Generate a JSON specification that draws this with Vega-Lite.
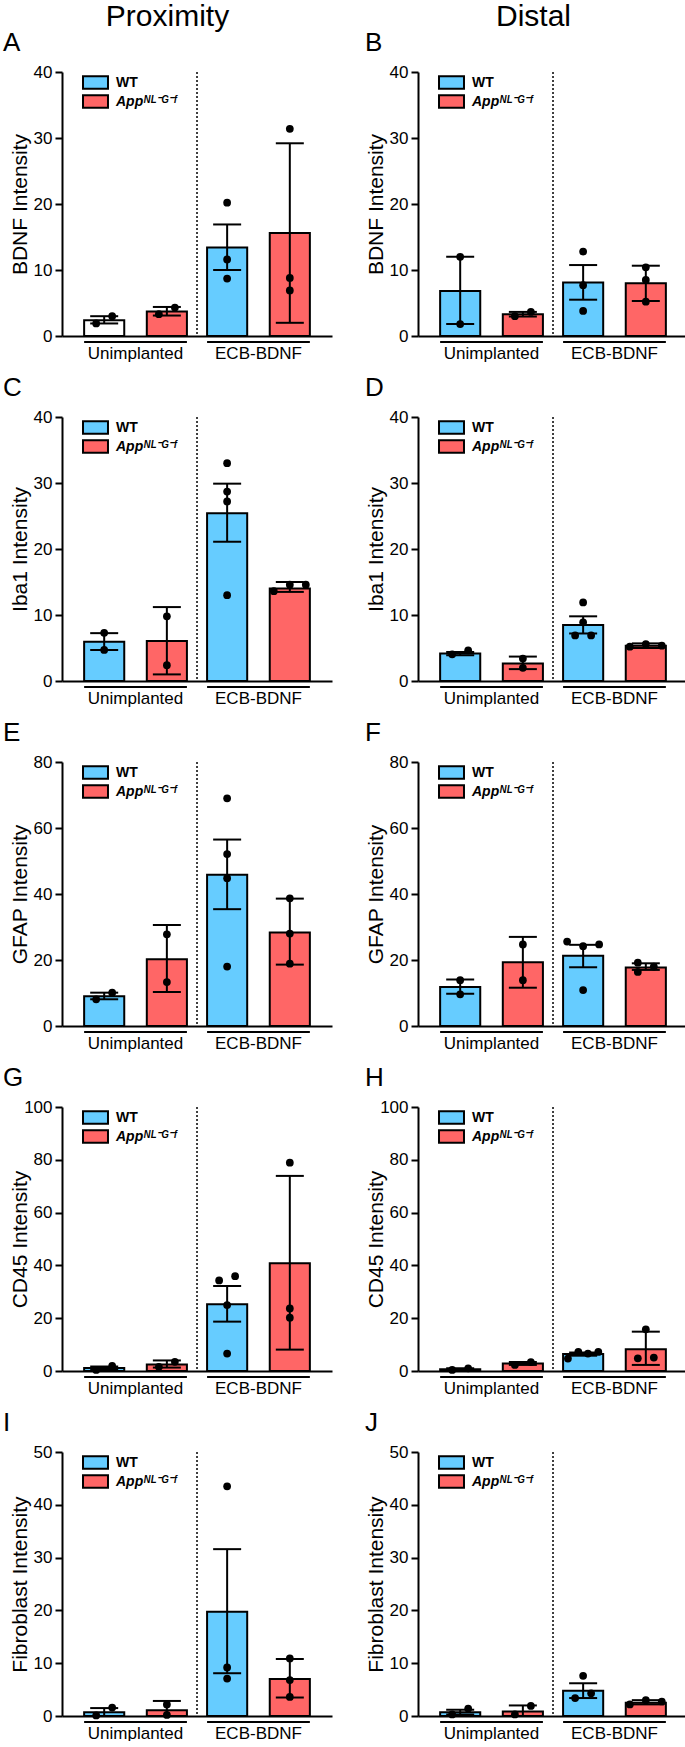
{
"$schema": "https://vega.github.io/schema/vega-lite/v6.json",
"padding": {"left": 2, "top": 2, "right": 0, "bottom": 0},
"datasets": {
"groups": [{"group": "Unimplanted"}, {"group": "ECB-BDNF"}],
"bars": [
{"panel":"A","group":"Unimplanted","genotype":"WT","mean":2.4,"lo":1.9,"hi":3.0},
{"panel":"A","group":"Unimplanted","genotype":"App","mean":3.7,"lo":3.1,"hi":4.4},
{"panel":"A","group":"ECB-BDNF","genotype":"WT","mean":13.4,"lo":10.0,"hi":16.9},
{"panel":"A","group":"ECB-BDNF","genotype":"App","mean":15.6,"lo":2.0,"hi":29.2},
{"panel":"B","group":"Unimplanted","genotype":"WT","mean":6.8,"lo":1.8,"hi":12.0},
{"panel":"B","group":"Unimplanted","genotype":"App","mean":3.3,"lo":2.95,"hi":3.65},
{"panel":"B","group":"ECB-BDNF","genotype":"WT","mean":8.1,"lo":5.5,"hi":10.75},
{"panel":"B","group":"ECB-BDNF","genotype":"App","mean":8.0,"lo":5.3,"hi":10.65},
{"panel":"C","group":"Unimplanted","genotype":"WT","mean":5.95,"lo":4.7,"hi":7.25},
{"panel":"C","group":"Unimplanted","genotype":"App","mean":6.05,"lo":1.0,"hi":11.2},
{"panel":"C","group":"ECB-BDNF","genotype":"WT","mean":25.4,"lo":21.1,"hi":29.9},
{"panel":"C","group":"ECB-BDNF","genotype":"App","mean":14.0,"lo":13.5,"hi":15.0},
{"panel":"D","group":"Unimplanted","genotype":"WT","mean":4.15,"lo":3.9,"hi":4.4},
{"panel":"D","group":"Unimplanted","genotype":"App","mean":2.65,"lo":1.8,"hi":3.7},
{"panel":"D","group":"ECB-BDNF","genotype":"WT","mean":8.5,"lo":7.2,"hi":9.8},
{"panel":"D","group":"ECB-BDNF","genotype":"App","mean":5.35,"lo":5.0,"hi":5.7},
{"panel":"E","group":"Unimplanted","genotype":"WT","mean":9.0,"lo":8.1,"hi":10.1},
{"panel":"E","group":"Unimplanted","genotype":"App","mean":20.2,"lo":10.3,"hi":30.6},
{"panel":"E","group":"ECB-BDNF","genotype":"WT","mean":45.8,"lo":35.4,"hi":56.5},
{"panel":"E","group":"ECB-BDNF","genotype":"App","mean":28.3,"lo":18.6,"hi":38.6},
{"panel":"F","group":"Unimplanted","genotype":"WT","mean":11.8,"lo":9.8,"hi":14.1},
{"panel":"F","group":"Unimplanted","genotype":"App","mean":19.3,"lo":11.6,"hi":27.0},
{"panel":"F","group":"ECB-BDNF","genotype":"WT","mean":21.3,"lo":17.8,"hi":24.6},
{"panel":"F","group":"ECB-BDNF","genotype":"App","mean":17.7,"lo":17.0,"hi":19.0},
{"panel":"G","group":"Unimplanted","genotype":"WT","mean":1.1,"lo":0.5,"hi":1.7},
{"panel":"G","group":"Unimplanted","genotype":"App","mean":2.5,"lo":1.3,"hi":4.0},
{"panel":"G","group":"ECB-BDNF","genotype":"WT","mean":25.3,"lo":18.7,"hi":32.2},
{"panel":"G","group":"ECB-BDNF","genotype":"App","mean":40.8,"lo":8.1,"hi":73.9},
{"panel":"H","group":"Unimplanted","genotype":"WT","mean":0.7,"lo":0.4,"hi":1.0},
{"panel":"H","group":"Unimplanted","genotype":"App","mean":2.8,"lo":2.3,"hi":3.4},
{"panel":"H","group":"ECB-BDNF","genotype":"WT","mean":6.4,"lo":5.8,"hi":7.0},
{"panel":"H","group":"ECB-BDNF","genotype":"App","mean":8.2,"lo":2.3,"hi":14.9},
{"panel":"I","group":"Unimplanted","genotype":"WT","mean":0.7,"lo":0.0,"hi":1.5},
{"panel":"I","group":"Unimplanted","genotype":"App","mean":1.1,"lo":0.0,"hi":2.85},
{"panel":"I","group":"ECB-BDNF","genotype":"WT","mean":19.75,"lo":8.1,"hi":31.6},
{"panel":"I","group":"ECB-BDNF","genotype":"App","mean":7.0,"lo":3.5,"hi":10.8},
{"panel":"J","group":"Unimplanted","genotype":"WT","mean":0.7,"lo":0.3,"hi":1.2},
{"panel":"J","group":"Unimplanted","genotype":"App","mean":0.85,"lo":0.0,"hi":2.0},
{"panel":"J","group":"ECB-BDNF","genotype":"WT","mean":4.8,"lo":3.4,"hi":6.2},
{"panel":"J","group":"ECB-BDNF","genotype":"App","mean":2.5,"lo":2.2,"hi":3.0}
],
"points": [
{"panel":"A","group":"Unimplanted","genotype":"WT","value":1.9,"spread":-1},
{"panel":"A","group":"Unimplanted","genotype":"WT","value":3.0,"spread":1},
{"panel":"A","group":"Unimplanted","genotype":"App","value":3.3,"spread":-1},
{"panel":"A","group":"Unimplanted","genotype":"App","value":4.3,"spread":1},
{"panel":"A","group":"ECB-BDNF","genotype":"WT","value":20.2,"spread":0},
{"panel":"A","group":"ECB-BDNF","genotype":"WT","value":11.6,"spread":0},
{"panel":"A","group":"ECB-BDNF","genotype":"WT","value":8.7,"spread":0},
{"panel":"A","group":"ECB-BDNF","genotype":"App","value":31.4,"spread":0},
{"panel":"A","group":"ECB-BDNF","genotype":"App","value":8.8,"spread":0},
{"panel":"A","group":"ECB-BDNF","genotype":"App","value":6.9,"spread":0},
{"panel":"B","group":"Unimplanted","genotype":"WT","value":12.0,"spread":0},
{"panel":"B","group":"Unimplanted","genotype":"WT","value":1.8,"spread":0},
{"panel":"B","group":"Unimplanted","genotype":"App","value":3.0,"spread":-1},
{"panel":"B","group":"Unimplanted","genotype":"App","value":3.65,"spread":1},
{"panel":"B","group":"ECB-BDNF","genotype":"WT","value":12.8,"spread":0},
{"panel":"B","group":"ECB-BDNF","genotype":"WT","value":7.7,"spread":0},
{"panel":"B","group":"ECB-BDNF","genotype":"WT","value":3.8,"spread":0},
{"panel":"B","group":"ECB-BDNF","genotype":"App","value":10.4,"spread":0},
{"panel":"B","group":"ECB-BDNF","genotype":"App","value":8.5,"spread":0},
{"panel":"B","group":"ECB-BDNF","genotype":"App","value":5.2,"spread":0},
{"panel":"C","group":"Unimplanted","genotype":"WT","value":7.3,"spread":0},
{"panel":"C","group":"Unimplanted","genotype":"WT","value":4.7,"spread":0},
{"panel":"C","group":"Unimplanted","genotype":"App","value":9.8,"spread":0},
{"panel":"C","group":"Unimplanted","genotype":"App","value":2.4,"spread":0},
{"panel":"C","group":"ECB-BDNF","genotype":"WT","value":33.0,"spread":0},
{"panel":"C","group":"ECB-BDNF","genotype":"WT","value":28.7,"spread":0},
{"panel":"C","group":"ECB-BDNF","genotype":"WT","value":27.2,"spread":0},
{"panel":"C","group":"ECB-BDNF","genotype":"WT","value":13.0,"spread":0},
{"panel":"C","group":"ECB-BDNF","genotype":"App","value":13.6,"spread":-2},
{"panel":"C","group":"ECB-BDNF","genotype":"App","value":14.6,"spread":0},
{"panel":"C","group":"ECB-BDNF","genotype":"App","value":14.6,"spread":2},
{"panel":"D","group":"Unimplanted","genotype":"WT","value":4.05,"spread":-1},
{"panel":"D","group":"Unimplanted","genotype":"WT","value":4.65,"spread":1},
{"panel":"D","group":"Unimplanted","genotype":"App","value":3.4,"spread":0},
{"panel":"D","group":"Unimplanted","genotype":"App","value":2.0,"spread":0},
{"panel":"D","group":"ECB-BDNF","genotype":"WT","value":11.9,"spread":0},
{"panel":"D","group":"ECB-BDNF","genotype":"WT","value":8.9,"spread":0},
{"panel":"D","group":"ECB-BDNF","genotype":"WT","value":6.9,"spread":-1},
{"panel":"D","group":"ECB-BDNF","genotype":"WT","value":6.9,"spread":1},
{"panel":"D","group":"ECB-BDNF","genotype":"App","value":5.2,"spread":-2},
{"panel":"D","group":"ECB-BDNF","genotype":"App","value":5.6,"spread":0},
{"panel":"D","group":"ECB-BDNF","genotype":"App","value":5.35,"spread":2},
{"panel":"E","group":"Unimplanted","genotype":"WT","value":8.1,"spread":-1},
{"panel":"E","group":"Unimplanted","genotype":"WT","value":10.1,"spread":1},
{"panel":"E","group":"Unimplanted","genotype":"App","value":27.8,"spread":0},
{"panel":"E","group":"Unimplanted","genotype":"App","value":13.3,"spread":0},
{"panel":"E","group":"ECB-BDNF","genotype":"WT","value":69.0,"spread":0},
{"panel":"E","group":"ECB-BDNF","genotype":"WT","value":52.1,"spread":0},
{"panel":"E","group":"ECB-BDNF","genotype":"WT","value":44.8,"spread":0},
{"panel":"E","group":"ECB-BDNF","genotype":"WT","value":18.0,"spread":0},
{"panel":"E","group":"ECB-BDNF","genotype":"App","value":38.7,"spread":0},
{"panel":"E","group":"ECB-BDNF","genotype":"App","value":28.0,"spread":0},
{"panel":"E","group":"ECB-BDNF","genotype":"App","value":18.9,"spread":0},
{"panel":"F","group":"Unimplanted","genotype":"WT","value":13.9,"spread":0},
{"panel":"F","group":"Unimplanted","genotype":"WT","value":9.6,"spread":0},
{"panel":"F","group":"Unimplanted","genotype":"App","value":24.7,"spread":0},
{"panel":"F","group":"Unimplanted","genotype":"App","value":13.9,"spread":0},
{"panel":"F","group":"ECB-BDNF","genotype":"WT","value":25.6,"spread":-2},
{"panel":"F","group":"ECB-BDNF","genotype":"WT","value":24.2,"spread":0},
{"panel":"F","group":"ECB-BDNF","genotype":"WT","value":24.7,"spread":2},
{"panel":"F","group":"ECB-BDNF","genotype":"WT","value":10.9,"spread":0},
{"panel":"F","group":"ECB-BDNF","genotype":"App","value":19.2,"spread":-1},
{"panel":"F","group":"ECB-BDNF","genotype":"App","value":16.4,"spread":-1},
{"panel":"F","group":"ECB-BDNF","genotype":"App","value":18.0,"spread":1},
{"panel":"G","group":"Unimplanted","genotype":"WT","value":0.4,"spread":-1},
{"panel":"G","group":"Unimplanted","genotype":"WT","value":1.9,"spread":1},
{"panel":"G","group":"Unimplanted","genotype":"App","value":1.6,"spread":-1},
{"panel":"G","group":"Unimplanted","genotype":"App","value":3.5,"spread":1},
{"panel":"G","group":"ECB-BDNF","genotype":"WT","value":34.3,"spread":-1},
{"panel":"G","group":"ECB-BDNF","genotype":"WT","value":35.9,"spread":1},
{"panel":"G","group":"ECB-BDNF","genotype":"WT","value":25.0,"spread":0},
{"panel":"G","group":"ECB-BDNF","genotype":"WT","value":6.6,"spread":0},
{"panel":"G","group":"ECB-BDNF","genotype":"App","value":78.9,"spread":0},
{"panel":"G","group":"ECB-BDNF","genotype":"App","value":23.7,"spread":0},
{"panel":"G","group":"ECB-BDNF","genotype":"App","value":20.2,"spread":0},
{"panel":"H","group":"Unimplanted","genotype":"WT","value":0.4,"spread":-1},
{"panel":"H","group":"Unimplanted","genotype":"WT","value":1.0,"spread":1},
{"panel":"H","group":"Unimplanted","genotype":"App","value":2.3,"spread":-1},
{"panel":"H","group":"Unimplanted","genotype":"App","value":3.4,"spread":1},
{"panel":"H","group":"ECB-BDNF","genotype":"WT","value":4.7,"spread":-1.9},
{"panel":"H","group":"ECB-BDNF","genotype":"WT","value":7.2,"spread":-0.6},
{"panel":"H","group":"ECB-BDNF","genotype":"WT","value":6.6,"spread":0.6},
{"panel":"H","group":"ECB-BDNF","genotype":"WT","value":7.2,"spread":1.9},
{"panel":"H","group":"ECB-BDNF","genotype":"App","value":15.8,"spread":0},
{"panel":"H","group":"ECB-BDNF","genotype":"App","value":4.8,"spread":-1},
{"panel":"H","group":"ECB-BDNF","genotype":"App","value":5.1,"spread":1},
{"panel":"I","group":"Unimplanted","genotype":"WT","value":0.1,"spread":-1},
{"panel":"I","group":"Unimplanted","genotype":"WT","value":1.6,"spread":1},
{"panel":"I","group":"Unimplanted","genotype":"App","value":2.2,"spread":0},
{"panel":"I","group":"Unimplanted","genotype":"App","value":0.2,"spread":0},
{"panel":"I","group":"ECB-BDNF","genotype":"WT","value":43.5,"spread":0},
{"panel":"I","group":"ECB-BDNF","genotype":"WT","value":9.2,"spread":0},
{"panel":"I","group":"ECB-BDNF","genotype":"WT","value":7.1,"spread":0},
{"panel":"I","group":"ECB-BDNF","genotype":"App","value":10.9,"spread":0},
{"panel":"I","group":"ECB-BDNF","genotype":"App","value":6.8,"spread":0},
{"panel":"I","group":"ECB-BDNF","genotype":"App","value":3.6,"spread":0},
{"panel":"J","group":"Unimplanted","genotype":"WT","value":0.3,"spread":-1},
{"panel":"J","group":"Unimplanted","genotype":"WT","value":1.4,"spread":1},
{"panel":"J","group":"Unimplanted","genotype":"App","value":0.3,"spread":-1},
{"panel":"J","group":"Unimplanted","genotype":"App","value":1.9,"spread":1},
{"panel":"J","group":"ECB-BDNF","genotype":"WT","value":7.6,"spread":0},
{"panel":"J","group":"ECB-BDNF","genotype":"WT","value":3.4,"spread":-1},
{"panel":"J","group":"ECB-BDNF","genotype":"WT","value":4.3,"spread":1},
{"panel":"J","group":"ECB-BDNF","genotype":"App","value":2.2,"spread":-2},
{"panel":"J","group":"ECB-BDNF","genotype":"App","value":3.0,"spread":0},
{"panel":"J","group":"ECB-BDNF","genotype":"App","value":2.7,"spread":2}
]
},
"config": {
"font": "Liberation Sans",
"view": {"stroke": null},
"axis": {"domainColor": "black", "domainWidth": 2, "tickColor": "black", "tickWidth": 2, "tickSize": 7, "labelFont": "Liberation Sans", "labelFontSize": 17, "labelColor": "black", "titleFont": "Liberation Sans", "titleFontSize": 21, "titleFontWeight": "normal", "titleColor": "black", "grid": false},
"axisY": {"labelPadding": 3, "titleX": -32, "titleY": 132, "titleAngle": 270, "titleAlign": "center", "titleBaseline": "bottom"},
"axisX": {"ticks": false, "labelPadding": 9, "labelAngle": 0},
"legend": {"symbolType": "M-2,-1H2V1H-2Z", "symbolSize": 156, "symbolStrokeColor": "black", "symbolStrokeWidth": 2, "symbolOpacity": 1, "labelFont": "Liberation Sans", "labelFontSize": 14, "labelFontWeight": "bold", "labelColor": "black", "labelOffset": 13, "rowPadding": -2, "padding": 0},
"title": {"font": "Liberation Sans", "fontSize": 26, "fontWeight": "normal", "color": "black", "anchor": "start", "offset": 7}
},
"hconcat": [
{
"title": {"text": "Proximity", "anchor": "middle", "fontSize": 30, "offset": -2},
"bounds": "flush",
"spacing": 81,
"resolve": {"scale": {"fill": "independent", "x": "independent", "y": "independent", "xOffset": "independent"}, "legend": {"fill": "independent"}},
"vconcat": [
{"title": {"text": "A", "dx": -6}, "width": 270, "height": 264, "layer": [
{"data": {"name": "groups"}, "transform": [{"filter": "datum.group == 'ECB-BDNF'"}], "mark": {"type": "rule", "strokeDash": [2, 2], "strokeWidth": 1.5, "color": "black"}, "encoding": {"x": {"field": "group", "type": "nominal", "bandPosition": -0.098}}},
{"data": {"name": "bars"}, "transform": [{"filter": "datum.panel == 'A'"}], "mark": {"type": "bar", "stroke": "black", "strokeWidth": 2}, "encoding": {
"x": {"field": "group", "type": "nominal", "title": null, "scale": {"domain": ["Unimplanted", "ECB-BDNF"], "paddingInner": 0.164, "paddingOuter": 0.18}},
"xOffset": {"field": "genotype", "type": "nominal", "scale": {"domain": ["WT", "App"], "paddingInner": 0.36, "paddingOuter": 0}},
"y": {"field": "mean", "type": "quantitative", "scale": {"domain": [0, 40], "nice": false}, "axis": {"values": [0, 10, 20, 30, 40], "title": "BDNF Intensity"}},
"fill": {"condition": {"test": "datum.group == 'Unimplanted' && datum.genotype == 'WT'", "value": "white"}, "field": "genotype", "type": "nominal", "scale": {"domain": ["WT", "App"], "range": ["#66CCFF", "#FF6666"]}, "legend": {"title": null, "orient": "none", "legendX": 26, "legendY": 3, "direction": "vertical", "labelExpr": "datum.value == 'WT' ? 'WT' : 'App\u1d3a\u1d38\u207b\u1d33\u207b\u1da0'", "encode": {"labels": {"update": {"fontStyle": {"signal": "datum.value == 'App' ? 'italic' : 'normal'"}}}}}}}},
{"data": {"name": "bars"}, "transform": [{"filter": "datum.panel == 'A'"}], "mark": {"type": "rule", "strokeWidth": 2, "color": "black"}, "encoding": {"x": {"field": "group", "type": "nominal"}, "xOffset": {"field": "genotype", "type": "nominal"}, "y": {"field": "lo", "type": "quantitative"}, "y2": {"field": "hi"}}},
{"data": {"name": "bars"}, "transform": [{"filter": "datum.panel == 'A'"}], "mark": {"type": "tick", "thickness": 2, "size": 28, "color": "black", "opacity": 1}, "encoding": {"x": {"field": "group", "type": "nominal"}, "xOffset": {"field": "genotype", "type": "nominal"}, "y": {"field": "lo", "type": "quantitative"}}},
{"data": {"name": "bars"}, "transform": [{"filter": "datum.panel == 'A'"}], "mark": {"type": "tick", "thickness": 2, "size": 28, "color": "black", "opacity": 1}, "encoding": {"x": {"field": "group", "type": "nominal"}, "xOffset": {"field": "genotype", "type": "nominal"}, "y": {"field": "hi", "type": "quantitative"}}},
{"data": {"name": "points"}, "transform": [{"filter": "datum.panel == 'A' && datum.genotype == 'WT'"}], "mark": {"type": "circle", "size": 60, "color": "black", "opacity": 1, "xOffset": {"expr": "datum.spread * 8"}}, "encoding": {"x": {"field": "group", "type": "nominal", "bandPosition": 0.195}, "y": {"field": "value", "type": "quantitative"}}},
{"data": {"name": "points"}, "transform": [{"filter": "datum.panel == 'A' && datum.genotype == 'App'"}], "mark": {"type": "circle", "size": 60, "color": "black", "opacity": 1, "xOffset": {"expr": "datum.spread * 8"}}, "encoding": {"x": {"field": "group", "type": "nominal", "bandPosition": 0.805}, "y": {"field": "value", "type": "quantitative"}}},
{"data": {"name": "groups"}, "mark": {"type": "rule", "strokeWidth": 2, "color": "black", "yOffset": 6}, "encoding": {"x": {"field": "group", "type": "nominal", "bandPosition": 0}, "x2": {"field": "group", "bandPosition": 1}, "y": {"datum": 0}}}
]},
{"title": {"text": "C", "dx": -6}, "width": 270, "height": 264, "layer": [
{"data": {"name": "groups"}, "transform": [{"filter": "datum.group == 'ECB-BDNF'"}], "mark": {"type": "rule", "strokeDash": [2, 2], "strokeWidth": 1.5, "color": "black"}, "encoding": {"x": {"field": "group", "type": "nominal", "bandPosition": -0.098}}},
{"data": {"name": "bars"}, "transform": [{"filter": "datum.panel == 'C'"}], "mark": {"type": "bar", "stroke": "black", "strokeWidth": 2}, "encoding": {
"x": {"field": "group", "type": "nominal", "title": null, "scale": {"domain": ["Unimplanted", "ECB-BDNF"], "paddingInner": 0.164, "paddingOuter": 0.18}},
"xOffset": {"field": "genotype", "type": "nominal", "scale": {"domain": ["WT", "App"], "paddingInner": 0.36, "paddingOuter": 0}},
"y": {"field": "mean", "type": "quantitative", "scale": {"domain": [0, 40], "nice": false}, "axis": {"values": [0, 10, 20, 30, 40], "title": "Iba1 Intensity"}},
"fill": {"field": "genotype", "type": "nominal", "scale": {"domain": ["WT", "App"], "range": ["#66CCFF", "#FF6666"]}, "legend": {"title": null, "orient": "none", "legendX": 26, "legendY": 3, "direction": "vertical", "labelExpr": "datum.value == 'WT' ? 'WT' : 'App\u1d3a\u1d38\u207b\u1d33\u207b\u1da0'", "encode": {"labels": {"update": {"fontStyle": {"signal": "datum.value == 'App' ? 'italic' : 'normal'"}}}}}}}},
{"data": {"name": "bars"}, "transform": [{"filter": "datum.panel == 'C'"}], "mark": {"type": "rule", "strokeWidth": 2, "color": "black"}, "encoding": {"x": {"field": "group", "type": "nominal"}, "xOffset": {"field": "genotype", "type": "nominal"}, "y": {"field": "lo", "type": "quantitative"}, "y2": {"field": "hi"}}},
{"data": {"name": "bars"}, "transform": [{"filter": "datum.panel == 'C'"}], "mark": {"type": "tick", "thickness": 2, "size": 28, "color": "black", "opacity": 1}, "encoding": {"x": {"field": "group", "type": "nominal"}, "xOffset": {"field": "genotype", "type": "nominal"}, "y": {"field": "lo", "type": "quantitative"}}},
{"data": {"name": "bars"}, "transform": [{"filter": "datum.panel == 'C'"}], "mark": {"type": "tick", "thickness": 2, "size": 28, "color": "black", "opacity": 1}, "encoding": {"x": {"field": "group", "type": "nominal"}, "xOffset": {"field": "genotype", "type": "nominal"}, "y": {"field": "hi", "type": "quantitative"}}},
{"data": {"name": "points"}, "transform": [{"filter": "datum.panel == 'C' && datum.genotype == 'WT'"}], "mark": {"type": "circle", "size": 60, "color": "black", "opacity": 1, "xOffset": {"expr": "datum.spread * 8"}}, "encoding": {"x": {"field": "group", "type": "nominal", "bandPosition": 0.195}, "y": {"field": "value", "type": "quantitative"}}},
{"data": {"name": "points"}, "transform": [{"filter": "datum.panel == 'C' && datum.genotype == 'App'"}], "mark": {"type": "circle", "size": 60, "color": "black", "opacity": 1, "xOffset": {"expr": "datum.spread * 8"}}, "encoding": {"x": {"field": "group", "type": "nominal", "bandPosition": 0.805}, "y": {"field": "value", "type": "quantitative"}}},
{"data": {"name": "groups"}, "mark": {"type": "rule", "strokeWidth": 2, "color": "black", "yOffset": 6}, "encoding": {"x": {"field": "group", "type": "nominal", "bandPosition": 0}, "x2": {"field": "group", "bandPosition": 1}, "y": {"datum": 0}}}
]},
{"title": {"text": "E", "dx": -6}, "width": 270, "height": 264, "layer": [
{"data": {"name": "groups"}, "transform": [{"filter": "datum.group == 'ECB-BDNF'"}], "mark": {"type": "rule", "strokeDash": [2, 2], "strokeWidth": 1.5, "color": "black"}, "encoding": {"x": {"field": "group", "type": "nominal", "bandPosition": -0.098}}},
{"data": {"name": "bars"}, "transform": [{"filter": "datum.panel == 'E'"}], "mark": {"type": "bar", "stroke": "black", "strokeWidth": 2}, "encoding": {
"x": {"field": "group", "type": "nominal", "title": null, "scale": {"domain": ["Unimplanted", "ECB-BDNF"], "paddingInner": 0.164, "paddingOuter": 0.18}},
"xOffset": {"field": "genotype", "type": "nominal", "scale": {"domain": ["WT", "App"], "paddingInner": 0.36, "paddingOuter": 0}},
"y": {"field": "mean", "type": "quantitative", "scale": {"domain": [0, 80], "nice": false}, "axis": {"values": [0, 20, 40, 60, 80], "title": "GFAP Intensity"}},
"fill": {"field": "genotype", "type": "nominal", "scale": {"domain": ["WT", "App"], "range": ["#66CCFF", "#FF6666"]}, "legend": {"title": null, "orient": "none", "legendX": 26, "legendY": 3, "direction": "vertical", "labelExpr": "datum.value == 'WT' ? 'WT' : 'App\u1d3a\u1d38\u207b\u1d33\u207b\u1da0'", "encode": {"labels": {"update": {"fontStyle": {"signal": "datum.value == 'App' ? 'italic' : 'normal'"}}}}}}}},
{"data": {"name": "bars"}, "transform": [{"filter": "datum.panel == 'E'"}], "mark": {"type": "rule", "strokeWidth": 2, "color": "black"}, "encoding": {"x": {"field": "group", "type": "nominal"}, "xOffset": {"field": "genotype", "type": "nominal"}, "y": {"field": "lo", "type": "quantitative"}, "y2": {"field": "hi"}}},
{"data": {"name": "bars"}, "transform": [{"filter": "datum.panel == 'E'"}], "mark": {"type": "tick", "thickness": 2, "size": 28, "color": "black", "opacity": 1}, "encoding": {"x": {"field": "group", "type": "nominal"}, "xOffset": {"field": "genotype", "type": "nominal"}, "y": {"field": "lo", "type": "quantitative"}}},
{"data": {"name": "bars"}, "transform": [{"filter": "datum.panel == 'E'"}], "mark": {"type": "tick", "thickness": 2, "size": 28, "color": "black", "opacity": 1}, "encoding": {"x": {"field": "group", "type": "nominal"}, "xOffset": {"field": "genotype", "type": "nominal"}, "y": {"field": "hi", "type": "quantitative"}}},
{"data": {"name": "points"}, "transform": [{"filter": "datum.panel == 'E' && datum.genotype == 'WT'"}], "mark": {"type": "circle", "size": 60, "color": "black", "opacity": 1, "xOffset": {"expr": "datum.spread * 8"}}, "encoding": {"x": {"field": "group", "type": "nominal", "bandPosition": 0.195}, "y": {"field": "value", "type": "quantitative"}}},
{"data": {"name": "points"}, "transform": [{"filter": "datum.panel == 'E' && datum.genotype == 'App'"}], "mark": {"type": "circle", "size": 60, "color": "black", "opacity": 1, "xOffset": {"expr": "datum.spread * 8"}}, "encoding": {"x": {"field": "group", "type": "nominal", "bandPosition": 0.805}, "y": {"field": "value", "type": "quantitative"}}},
{"data": {"name": "groups"}, "mark": {"type": "rule", "strokeWidth": 2, "color": "black", "yOffset": 6}, "encoding": {"x": {"field": "group", "type": "nominal", "bandPosition": 0}, "x2": {"field": "group", "bandPosition": 1}, "y": {"datum": 0}}}
]},
{"title": {"text": "G", "dx": -6}, "width": 270, "height": 264, "layer": [
{"data": {"name": "groups"}, "transform": [{"filter": "datum.group == 'ECB-BDNF'"}], "mark": {"type": "rule", "strokeDash": [2, 2], "strokeWidth": 1.5, "color": "black"}, "encoding": {"x": {"field": "group", "type": "nominal", "bandPosition": -0.098}}},
{"data": {"name": "bars"}, "transform": [{"filter": "datum.panel == 'G'"}], "mark": {"type": "bar", "stroke": "black", "strokeWidth": 2}, "encoding": {
"x": {"field": "group", "type": "nominal", "title": null, "scale": {"domain": ["Unimplanted", "ECB-BDNF"], "paddingInner": 0.164, "paddingOuter": 0.18}},
"xOffset": {"field": "genotype", "type": "nominal", "scale": {"domain": ["WT", "App"], "paddingInner": 0.36, "paddingOuter": 0}},
"y": {"field": "mean", "type": "quantitative", "scale": {"domain": [0, 100], "nice": false}, "axis": {"values": [0, 20, 40, 60, 80, 100], "title": "CD45 Intensity"}},
"fill": {"field": "genotype", "type": "nominal", "scale": {"domain": ["WT", "App"], "range": ["#66CCFF", "#FF6666"]}, "legend": {"title": null, "orient": "none", "legendX": 26, "legendY": 3, "direction": "vertical", "labelExpr": "datum.value == 'WT' ? 'WT' : 'App\u1d3a\u1d38\u207b\u1d33\u207b\u1da0'", "encode": {"labels": {"update": {"fontStyle": {"signal": "datum.value == 'App' ? 'italic' : 'normal'"}}}}}}}},
{"data": {"name": "bars"}, "transform": [{"filter": "datum.panel == 'G'"}], "mark": {"type": "rule", "strokeWidth": 2, "color": "black"}, "encoding": {"x": {"field": "group", "type": "nominal"}, "xOffset": {"field": "genotype", "type": "nominal"}, "y": {"field": "lo", "type": "quantitative"}, "y2": {"field": "hi"}}},
{"data": {"name": "bars"}, "transform": [{"filter": "datum.panel == 'G'"}], "mark": {"type": "tick", "thickness": 2, "size": 28, "color": "black", "opacity": 1}, "encoding": {"x": {"field": "group", "type": "nominal"}, "xOffset": {"field": "genotype", "type": "nominal"}, "y": {"field": "lo", "type": "quantitative"}}},
{"data": {"name": "bars"}, "transform": [{"filter": "datum.panel == 'G'"}], "mark": {"type": "tick", "thickness": 2, "size": 28, "color": "black", "opacity": 1}, "encoding": {"x": {"field": "group", "type": "nominal"}, "xOffset": {"field": "genotype", "type": "nominal"}, "y": {"field": "hi", "type": "quantitative"}}},
{"data": {"name": "points"}, "transform": [{"filter": "datum.panel == 'G' && datum.genotype == 'WT'"}], "mark": {"type": "circle", "size": 60, "color": "black", "opacity": 1, "xOffset": {"expr": "datum.spread * 8"}}, "encoding": {"x": {"field": "group", "type": "nominal", "bandPosition": 0.195}, "y": {"field": "value", "type": "quantitative"}}},
{"data": {"name": "points"}, "transform": [{"filter": "datum.panel == 'G' && datum.genotype == 'App'"}], "mark": {"type": "circle", "size": 60, "color": "black", "opacity": 1, "xOffset": {"expr": "datum.spread * 8"}}, "encoding": {"x": {"field": "group", "type": "nominal", "bandPosition": 0.805}, "y": {"field": "value", "type": "quantitative"}}},
{"data": {"name": "groups"}, "mark": {"type": "rule", "strokeWidth": 2, "color": "black", "yOffset": 6}, "encoding": {"x": {"field": "group", "type": "nominal", "bandPosition": 0}, "x2": {"field": "group", "bandPosition": 1}, "y": {"datum": 0}}}
]},
{"title": {"text": "I", "dx": -6}, "width": 270, "height": 264, "layer": [
{"data": {"name": "groups"}, "transform": [{"filter": "datum.group == 'ECB-BDNF'"}], "mark": {"type": "rule", "strokeDash": [2, 2], "strokeWidth": 1.5, "color": "black"}, "encoding": {"x": {"field": "group", "type": "nominal", "bandPosition": -0.098}}},
{"data": {"name": "bars"}, "transform": [{"filter": "datum.panel == 'I'"}], "mark": {"type": "bar", "stroke": "black", "strokeWidth": 2}, "encoding": {
"x": {"field": "group", "type": "nominal", "title": null, "scale": {"domain": ["Unimplanted", "ECB-BDNF"], "paddingInner": 0.164, "paddingOuter": 0.18}},
"xOffset": {"field": "genotype", "type": "nominal", "scale": {"domain": ["WT", "App"], "paddingInner": 0.36, "paddingOuter": 0}},
"y": {"field": "mean", "type": "quantitative", "scale": {"domain": [0, 50], "nice": false}, "axis": {"values": [0, 10, 20, 30, 40, 50], "title": "Fibroblast Intensity"}},
"fill": {"field": "genotype", "type": "nominal", "scale": {"domain": ["WT", "App"], "range": ["#66CCFF", "#FF6666"]}, "legend": {"title": null, "orient": "none", "legendX": 26, "legendY": 3, "direction": "vertical", "labelExpr": "datum.value == 'WT' ? 'WT' : 'App\u1d3a\u1d38\u207b\u1d33\u207b\u1da0'", "encode": {"labels": {"update": {"fontStyle": {"signal": "datum.value == 'App' ? 'italic' : 'normal'"}}}}}}}},
{"data": {"name": "bars"}, "transform": [{"filter": "datum.panel == 'I'"}], "mark": {"type": "rule", "strokeWidth": 2, "color": "black"}, "encoding": {"x": {"field": "group", "type": "nominal"}, "xOffset": {"field": "genotype", "type": "nominal"}, "y": {"field": "lo", "type": "quantitative"}, "y2": {"field": "hi"}}},
{"data": {"name": "bars"}, "transform": [{"filter": "datum.panel == 'I'"}], "mark": {"type": "tick", "thickness": 2, "size": 28, "color": "black", "opacity": 1}, "encoding": {"x": {"field": "group", "type": "nominal"}, "xOffset": {"field": "genotype", "type": "nominal"}, "y": {"field": "lo", "type": "quantitative"}}},
{"data": {"name": "bars"}, "transform": [{"filter": "datum.panel == 'I'"}], "mark": {"type": "tick", "thickness": 2, "size": 28, "color": "black", "opacity": 1}, "encoding": {"x": {"field": "group", "type": "nominal"}, "xOffset": {"field": "genotype", "type": "nominal"}, "y": {"field": "hi", "type": "quantitative"}}},
{"data": {"name": "points"}, "transform": [{"filter": "datum.panel == 'I' && datum.genotype == 'WT'"}], "mark": {"type": "circle", "size": 60, "color": "black", "opacity": 1, "xOffset": {"expr": "datum.spread * 8"}}, "encoding": {"x": {"field": "group", "type": "nominal", "bandPosition": 0.195}, "y": {"field": "value", "type": "quantitative"}}},
{"data": {"name": "points"}, "transform": [{"filter": "datum.panel == 'I' && datum.genotype == 'App'"}], "mark": {"type": "circle", "size": 60, "color": "black", "opacity": 1, "xOffset": {"expr": "datum.spread * 8"}}, "encoding": {"x": {"field": "group", "type": "nominal", "bandPosition": 0.805}, "y": {"field": "value", "type": "quantitative"}}},
{"data": {"name": "groups"}, "mark": {"type": "rule", "strokeWidth": 2, "color": "black", "yOffset": 6}, "encoding": {"x": {"field": "group", "type": "nominal", "bandPosition": 0}, "x2": {"field": "group", "bandPosition": 1}, "y": {"datum": 0}}}
]}
]
},
{
"title": {"text": "Distal", "anchor": "middle", "fontSize": 30, "offset": -2, "dx": 7},
"bounds": "flush",
"spacing": 81,
"resolve": {"scale": {"fill": "independent", "x": "independent", "y": "independent", "xOffset": "independent"}, "legend": {"fill": "independent"}},
"vconcat": [
{"title": {"text": "B"}, "width": 270, "height": 264, "layer": [
{"data": {"name": "groups"}, "transform": [{"filter": "datum.group == 'ECB-BDNF'"}], "mark": {"type": "rule", "strokeDash": [2, 2], "strokeWidth": 1.5, "color": "black"}, "encoding": {"x": {"field": "group", "type": "nominal", "bandPosition": -0.098}}},
{"data": {"name": "bars"}, "transform": [{"filter": "datum.panel == 'B'"}], "mark": {"type": "bar", "stroke": "black", "strokeWidth": 2}, "encoding": {
"x": {"field": "group", "type": "nominal", "title": null, "scale": {"domain": ["Unimplanted", "ECB-BDNF"], "paddingInner": 0.164, "paddingOuter": 0.18}},
"xOffset": {"field": "genotype", "type": "nominal", "scale": {"domain": ["WT", "App"], "paddingInner": 0.36, "paddingOuter": 0}},
"y": {"field": "mean", "type": "quantitative", "scale": {"domain": [0, 40], "nice": false}, "axis": {"values": [0, 10, 20, 30, 40], "title": "BDNF Intensity"}},
"fill": {"field": "genotype", "type": "nominal", "scale": {"domain": ["WT", "App"], "range": ["#66CCFF", "#FF6666"]}, "legend": {"title": null, "orient": "none", "legendX": 26, "legendY": 3, "direction": "vertical", "labelExpr": "datum.value == 'WT' ? 'WT' : 'App\u1d3a\u1d38\u207b\u1d33\u207b\u1da0'", "encode": {"labels": {"update": {"fontStyle": {"signal": "datum.value == 'App' ? 'italic' : 'normal'"}}}}}}}},
{"data": {"name": "bars"}, "transform": [{"filter": "datum.panel == 'B'"}], "mark": {"type": "rule", "strokeWidth": 2, "color": "black"}, "encoding": {"x": {"field": "group", "type": "nominal"}, "xOffset": {"field": "genotype", "type": "nominal"}, "y": {"field": "lo", "type": "quantitative"}, "y2": {"field": "hi"}}},
{"data": {"name": "bars"}, "transform": [{"filter": "datum.panel == 'B'"}], "mark": {"type": "tick", "thickness": 2, "size": 28, "color": "black", "opacity": 1}, "encoding": {"x": {"field": "group", "type": "nominal"}, "xOffset": {"field": "genotype", "type": "nominal"}, "y": {"field": "lo", "type": "quantitative"}}},
{"data": {"name": "bars"}, "transform": [{"filter": "datum.panel == 'B'"}], "mark": {"type": "tick", "thickness": 2, "size": 28, "color": "black", "opacity": 1}, "encoding": {"x": {"field": "group", "type": "nominal"}, "xOffset": {"field": "genotype", "type": "nominal"}, "y": {"field": "hi", "type": "quantitative"}}},
{"data": {"name": "points"}, "transform": [{"filter": "datum.panel == 'B' && datum.genotype == 'WT'"}], "mark": {"type": "circle", "size": 60, "color": "black", "opacity": 1, "xOffset": {"expr": "datum.spread * 8"}}, "encoding": {"x": {"field": "group", "type": "nominal", "bandPosition": 0.195}, "y": {"field": "value", "type": "quantitative"}}},
{"data": {"name": "points"}, "transform": [{"filter": "datum.panel == 'B' && datum.genotype == 'App'"}], "mark": {"type": "circle", "size": 60, "color": "black", "opacity": 1, "xOffset": {"expr": "datum.spread * 8"}}, "encoding": {"x": {"field": "group", "type": "nominal", "bandPosition": 0.805}, "y": {"field": "value", "type": "quantitative"}}},
{"data": {"name": "groups"}, "mark": {"type": "rule", "strokeWidth": 2, "color": "black", "yOffset": 6}, "encoding": {"x": {"field": "group", "type": "nominal", "bandPosition": 0}, "x2": {"field": "group", "bandPosition": 1}, "y": {"datum": 0}}}
]},
{"title": {"text": "D"}, "width": 270, "height": 264, "layer": [
{"data": {"name": "groups"}, "transform": [{"filter": "datum.group == 'ECB-BDNF'"}], "mark": {"type": "rule", "strokeDash": [2, 2], "strokeWidth": 1.5, "color": "black"}, "encoding": {"x": {"field": "group", "type": "nominal", "bandPosition": -0.098}}},
{"data": {"name": "bars"}, "transform": [{"filter": "datum.panel == 'D'"}], "mark": {"type": "bar", "stroke": "black", "strokeWidth": 2}, "encoding": {
"x": {"field": "group", "type": "nominal", "title": null, "scale": {"domain": ["Unimplanted", "ECB-BDNF"], "paddingInner": 0.164, "paddingOuter": 0.18}},
"xOffset": {"field": "genotype", "type": "nominal", "scale": {"domain": ["WT", "App"], "paddingInner": 0.36, "paddingOuter": 0}},
"y": {"field": "mean", "type": "quantitative", "scale": {"domain": [0, 40], "nice": false}, "axis": {"values": [0, 10, 20, 30, 40], "title": "Iba1 Intensity"}},
"fill": {"field": "genotype", "type": "nominal", "scale": {"domain": ["WT", "App"], "range": ["#66CCFF", "#FF6666"]}, "legend": {"title": null, "orient": "none", "legendX": 26, "legendY": 3, "direction": "vertical", "labelExpr": "datum.value == 'WT' ? 'WT' : 'App\u1d3a\u1d38\u207b\u1d33\u207b\u1da0'", "encode": {"labels": {"update": {"fontStyle": {"signal": "datum.value == 'App' ? 'italic' : 'normal'"}}}}}}}},
{"data": {"name": "bars"}, "transform": [{"filter": "datum.panel == 'D'"}], "mark": {"type": "rule", "strokeWidth": 2, "color": "black"}, "encoding": {"x": {"field": "group", "type": "nominal"}, "xOffset": {"field": "genotype", "type": "nominal"}, "y": {"field": "lo", "type": "quantitative"}, "y2": {"field": "hi"}}},
{"data": {"name": "bars"}, "transform": [{"filter": "datum.panel == 'D'"}], "mark": {"type": "tick", "thickness": 2, "size": 28, "color": "black", "opacity": 1}, "encoding": {"x": {"field": "group", "type": "nominal"}, "xOffset": {"field": "genotype", "type": "nominal"}, "y": {"field": "lo", "type": "quantitative"}}},
{"data": {"name": "bars"}, "transform": [{"filter": "datum.panel == 'D'"}], "mark": {"type": "tick", "thickness": 2, "size": 28, "color": "black", "opacity": 1}, "encoding": {"x": {"field": "group", "type": "nominal"}, "xOffset": {"field": "genotype", "type": "nominal"}, "y": {"field": "hi", "type": "quantitative"}}},
{"data": {"name": "points"}, "transform": [{"filter": "datum.panel == 'D' && datum.genotype == 'WT'"}], "mark": {"type": "circle", "size": 60, "color": "black", "opacity": 1, "xOffset": {"expr": "datum.spread * 8"}}, "encoding": {"x": {"field": "group", "type": "nominal", "bandPosition": 0.195}, "y": {"field": "value", "type": "quantitative"}}},
{"data": {"name": "points"}, "transform": [{"filter": "datum.panel == 'D' && datum.genotype == 'App'"}], "mark": {"type": "circle", "size": 60, "color": "black", "opacity": 1, "xOffset": {"expr": "datum.spread * 8"}}, "encoding": {"x": {"field": "group", "type": "nominal", "bandPosition": 0.805}, "y": {"field": "value", "type": "quantitative"}}},
{"data": {"name": "groups"}, "mark": {"type": "rule", "strokeWidth": 2, "color": "black", "yOffset": 6}, "encoding": {"x": {"field": "group", "type": "nominal", "bandPosition": 0}, "x2": {"field": "group", "bandPosition": 1}, "y": {"datum": 0}}}
]},
{"title": {"text": "F"}, "width": 270, "height": 264, "layer": [
{"data": {"name": "groups"}, "transform": [{"filter": "datum.group == 'ECB-BDNF'"}], "mark": {"type": "rule", "strokeDash": [2, 2], "strokeWidth": 1.5, "color": "black"}, "encoding": {"x": {"field": "group", "type": "nominal", "bandPosition": -0.098}}},
{"data": {"name": "bars"}, "transform": [{"filter": "datum.panel == 'F'"}], "mark": {"type": "bar", "stroke": "black", "strokeWidth": 2}, "encoding": {
"x": {"field": "group", "type": "nominal", "title": null, "scale": {"domain": ["Unimplanted", "ECB-BDNF"], "paddingInner": 0.164, "paddingOuter": 0.18}},
"xOffset": {"field": "genotype", "type": "nominal", "scale": {"domain": ["WT", "App"], "paddingInner": 0.36, "paddingOuter": 0}},
"y": {"field": "mean", "type": "quantitative", "scale": {"domain": [0, 80], "nice": false}, "axis": {"values": [0, 20, 40, 60, 80], "title": "GFAP Intensity"}},
"fill": {"field": "genotype", "type": "nominal", "scale": {"domain": ["WT", "App"], "range": ["#66CCFF", "#FF6666"]}, "legend": {"title": null, "orient": "none", "legendX": 26, "legendY": 3, "direction": "vertical", "labelExpr": "datum.value == 'WT' ? 'WT' : 'App\u1d3a\u1d38\u207b\u1d33\u207b\u1da0'", "encode": {"labels": {"update": {"fontStyle": {"signal": "datum.value == 'App' ? 'italic' : 'normal'"}}}}}}}},
{"data": {"name": "bars"}, "transform": [{"filter": "datum.panel == 'F'"}], "mark": {"type": "rule", "strokeWidth": 2, "color": "black"}, "encoding": {"x": {"field": "group", "type": "nominal"}, "xOffset": {"field": "genotype", "type": "nominal"}, "y": {"field": "lo", "type": "quantitative"}, "y2": {"field": "hi"}}},
{"data": {"name": "bars"}, "transform": [{"filter": "datum.panel == 'F'"}], "mark": {"type": "tick", "thickness": 2, "size": 28, "color": "black", "opacity": 1}, "encoding": {"x": {"field": "group", "type": "nominal"}, "xOffset": {"field": "genotype", "type": "nominal"}, "y": {"field": "lo", "type": "quantitative"}}},
{"data": {"name": "bars"}, "transform": [{"filter": "datum.panel == 'F'"}], "mark": {"type": "tick", "thickness": 2, "size": 28, "color": "black", "opacity": 1}, "encoding": {"x": {"field": "group", "type": "nominal"}, "xOffset": {"field": "genotype", "type": "nominal"}, "y": {"field": "hi", "type": "quantitative"}}},
{"data": {"name": "points"}, "transform": [{"filter": "datum.panel == 'F' && datum.genotype == 'WT'"}], "mark": {"type": "circle", "size": 60, "color": "black", "opacity": 1, "xOffset": {"expr": "datum.spread * 8"}}, "encoding": {"x": {"field": "group", "type": "nominal", "bandPosition": 0.195}, "y": {"field": "value", "type": "quantitative"}}},
{"data": {"name": "points"}, "transform": [{"filter": "datum.panel == 'F' && datum.genotype == 'App'"}], "mark": {"type": "circle", "size": 60, "color": "black", "opacity": 1, "xOffset": {"expr": "datum.spread * 8"}}, "encoding": {"x": {"field": "group", "type": "nominal", "bandPosition": 0.805}, "y": {"field": "value", "type": "quantitative"}}},
{"data": {"name": "groups"}, "mark": {"type": "rule", "strokeWidth": 2, "color": "black", "yOffset": 6}, "encoding": {"x": {"field": "group", "type": "nominal", "bandPosition": 0}, "x2": {"field": "group", "bandPosition": 1}, "y": {"datum": 0}}}
]},
{"title": {"text": "H"}, "width": 270, "height": 264, "layer": [
{"data": {"name": "groups"}, "transform": [{"filter": "datum.group == 'ECB-BDNF'"}], "mark": {"type": "rule", "strokeDash": [2, 2], "strokeWidth": 1.5, "color": "black"}, "encoding": {"x": {"field": "group", "type": "nominal", "bandPosition": -0.098}}},
{"data": {"name": "bars"}, "transform": [{"filter": "datum.panel == 'H'"}], "mark": {"type": "bar", "stroke": "black", "strokeWidth": 2}, "encoding": {
"x": {"field": "group", "type": "nominal", "title": null, "scale": {"domain": ["Unimplanted", "ECB-BDNF"], "paddingInner": 0.164, "paddingOuter": 0.18}},
"xOffset": {"field": "genotype", "type": "nominal", "scale": {"domain": ["WT", "App"], "paddingInner": 0.36, "paddingOuter": 0}},
"y": {"field": "mean", "type": "quantitative", "scale": {"domain": [0, 100], "nice": false}, "axis": {"values": [0, 20, 40, 60, 80, 100], "title": "CD45 Intensity"}},
"fill": {"field": "genotype", "type": "nominal", "scale": {"domain": ["WT", "App"], "range": ["#66CCFF", "#FF6666"]}, "legend": {"title": null, "orient": "none", "legendX": 26, "legendY": 3, "direction": "vertical", "labelExpr": "datum.value == 'WT' ? 'WT' : 'App\u1d3a\u1d38\u207b\u1d33\u207b\u1da0'", "encode": {"labels": {"update": {"fontStyle": {"signal": "datum.value == 'App' ? 'italic' : 'normal'"}}}}}}}},
{"data": {"name": "bars"}, "transform": [{"filter": "datum.panel == 'H'"}], "mark": {"type": "rule", "strokeWidth": 2, "color": "black"}, "encoding": {"x": {"field": "group", "type": "nominal"}, "xOffset": {"field": "genotype", "type": "nominal"}, "y": {"field": "lo", "type": "quantitative"}, "y2": {"field": "hi"}}},
{"data": {"name": "bars"}, "transform": [{"filter": "datum.panel == 'H'"}], "mark": {"type": "tick", "thickness": 2, "size": 28, "color": "black", "opacity": 1}, "encoding": {"x": {"field": "group", "type": "nominal"}, "xOffset": {"field": "genotype", "type": "nominal"}, "y": {"field": "lo", "type": "quantitative"}}},
{"data": {"name": "bars"}, "transform": [{"filter": "datum.panel == 'H'"}], "mark": {"type": "tick", "thickness": 2, "size": 28, "color": "black", "opacity": 1}, "encoding": {"x": {"field": "group", "type": "nominal"}, "xOffset": {"field": "genotype", "type": "nominal"}, "y": {"field": "hi", "type": "quantitative"}}},
{"data": {"name": "points"}, "transform": [{"filter": "datum.panel == 'H' && datum.genotype == 'WT'"}], "mark": {"type": "circle", "size": 60, "color": "black", "opacity": 1, "xOffset": {"expr": "datum.spread * 8"}}, "encoding": {"x": {"field": "group", "type": "nominal", "bandPosition": 0.195}, "y": {"field": "value", "type": "quantitative"}}},
{"data": {"name": "points"}, "transform": [{"filter": "datum.panel == 'H' && datum.genotype == 'App'"}], "mark": {"type": "circle", "size": 60, "color": "black", "opacity": 1, "xOffset": {"expr": "datum.spread * 8"}}, "encoding": {"x": {"field": "group", "type": "nominal", "bandPosition": 0.805}, "y": {"field": "value", "type": "quantitative"}}},
{"data": {"name": "groups"}, "mark": {"type": "rule", "strokeWidth": 2, "color": "black", "yOffset": 6}, "encoding": {"x": {"field": "group", "type": "nominal", "bandPosition": 0}, "x2": {"field": "group", "bandPosition": 1}, "y": {"datum": 0}}}
]},
{"title": {"text": "J"}, "width": 270, "height": 264, "layer": [
{"data": {"name": "groups"}, "transform": [{"filter": "datum.group == 'ECB-BDNF'"}], "mark": {"type": "rule", "strokeDash": [2, 2], "strokeWidth": 1.5, "color": "black"}, "encoding": {"x": {"field": "group", "type": "nominal", "bandPosition": -0.098}}},
{"data": {"name": "bars"}, "transform": [{"filter": "datum.panel == 'J'"}], "mark": {"type": "bar", "stroke": "black", "strokeWidth": 2}, "encoding": {
"x": {"field": "group", "type": "nominal", "title": null, "scale": {"domain": ["Unimplanted", "ECB-BDNF"], "paddingInner": 0.164, "paddingOuter": 0.18}},
"xOffset": {"field": "genotype", "type": "nominal", "scale": {"domain": ["WT", "App"], "paddingInner": 0.36, "paddingOuter": 0}},
"y": {"field": "mean", "type": "quantitative", "scale": {"domain": [0, 50], "nice": false}, "axis": {"values": [0, 10, 20, 30, 40, 50], "title": "Fibroblast Intensity"}},
"fill": {"field": "genotype", "type": "nominal", "scale": {"domain": ["WT", "App"], "range": ["#66CCFF", "#FF6666"]}, "legend": {"title": null, "orient": "none", "legendX": 26, "legendY": 3, "direction": "vertical", "labelExpr": "datum.value == 'WT' ? 'WT' : 'App\u1d3a\u1d38\u207b\u1d33\u207b\u1da0'", "encode": {"labels": {"update": {"fontStyle": {"signal": "datum.value == 'App' ? 'italic' : 'normal'"}}}}}}}},
{"data": {"name": "bars"}, "transform": [{"filter": "datum.panel == 'J'"}], "mark": {"type": "rule", "strokeWidth": 2, "color": "black"}, "encoding": {"x": {"field": "group", "type": "nominal"}, "xOffset": {"field": "genotype", "type": "nominal"}, "y": {"field": "lo", "type": "quantitative"}, "y2": {"field": "hi"}}},
{"data": {"name": "bars"}, "transform": [{"filter": "datum.panel == 'J'"}], "mark": {"type": "tick", "thickness": 2, "size": 28, "color": "black", "opacity": 1}, "encoding": {"x": {"field": "group", "type": "nominal"}, "xOffset": {"field": "genotype", "type": "nominal"}, "y": {"field": "lo", "type": "quantitative"}}},
{"data": {"name": "bars"}, "transform": [{"filter": "datum.panel == 'J'"}], "mark": {"type": "tick", "thickness": 2, "size": 28, "color": "black", "opacity": 1}, "encoding": {"x": {"field": "group", "type": "nominal"}, "xOffset": {"field": "genotype", "type": "nominal"}, "y": {"field": "hi", "type": "quantitative"}}},
{"data": {"name": "points"}, "transform": [{"filter": "datum.panel == 'J' && datum.genotype == 'WT'"}], "mark": {"type": "circle", "size": 60, "color": "black", "opacity": 1, "xOffset": {"expr": "datum.spread * 8"}}, "encoding": {"x": {"field": "group", "type": "nominal", "bandPosition": 0.195}, "y": {"field": "value", "type": "quantitative"}}},
{"data": {"name": "points"}, "transform": [{"filter": "datum.panel == 'J' && datum.genotype == 'App'"}], "mark": {"type": "circle", "size": 60, "color": "black", "opacity": 1, "xOffset": {"expr": "datum.spread * 8"}}, "encoding": {"x": {"field": "group", "type": "nominal", "bandPosition": 0.805}, "y": {"field": "value", "type": "quantitative"}}},
{"data": {"name": "groups"}, "mark": {"type": "rule", "strokeWidth": 2, "color": "black", "yOffset": 6}, "encoding": {"x": {"field": "group", "type": "nominal", "bandPosition": 0}, "x2": {"field": "group", "bandPosition": 1}, "y": {"datum": 0}}}
]}
]
}
],
"spacing": 32,
"bounds": "full",
"resolve": {"scale": {"fill": "independent", "x": "independent", "y": "independent", "xOffset": "independent"}, "legend": {"fill": "independent"}}
}
